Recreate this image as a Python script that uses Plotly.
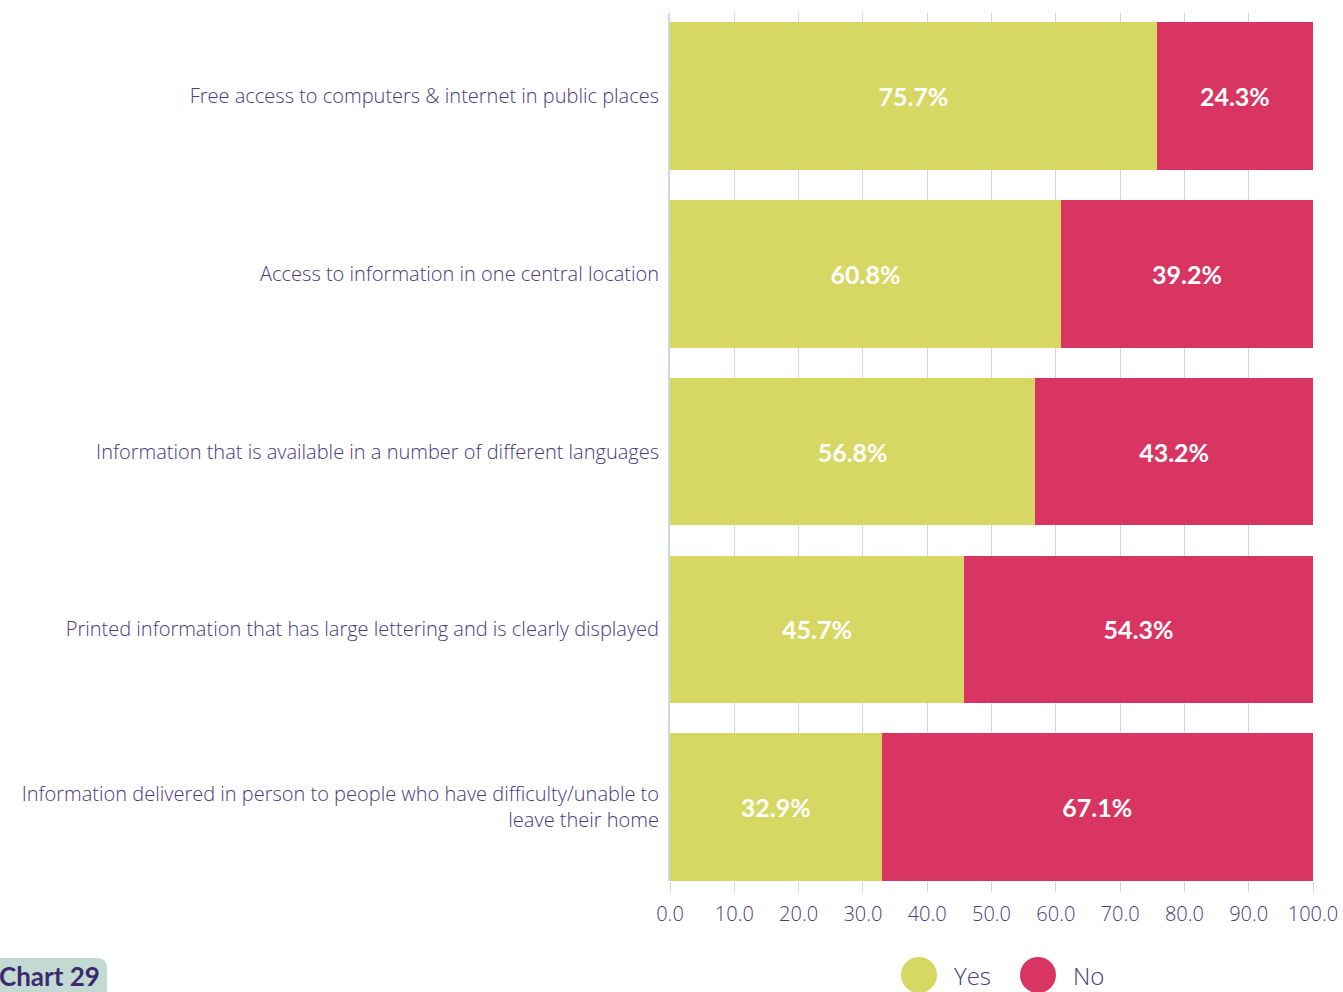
import plotly.graph_objects as go

categories = [
    "Free access to computers &amp; internet in public places",
    "Access to information in one central location",
    "Information that is available in a number of different languages",
    "Printed information that has large lettering and is clearly displayed",
    "Information delivered in person to people who have difficulty/unable to<br>leave their home",
]
yes_values = [75.7, 60.8, 56.8, 45.7, 32.9]
no_values = [24.3, 39.2, 43.2, 54.3, 67.1]
x_ticks = [0, 10, 20, 30, 40, 50, 60, 70, 80, 90, 100]

YES_COLOR = "#d7d764"
NO_COLOR = "#d93563"
TEXT_COLOR = "#463a80"
GRID_COLOR = "#c9dcd8"
FONT = "'Open Sans', Lato, sans-serif"
BOLD_FONT = "Lato, 'Open Sans', sans-serif"

positions = list(range(len(categories)))

fig = go.Figure()
for name, values, color in (("Yes", yes_values, YES_COLOR), ("No", no_values, NO_COLOR)):
    fig.add_trace(go.Bar(
        y=positions, x=values, orientation="h", name=name,
        marker=dict(color=color, line=dict(width=0)), width=0.83,
        text=[f"{v:.1f}%" for v in values], textposition="inside",
        insidetextanchor="middle",
        textfont=dict(color="white", size=25, family=BOLD_FONT, weight="bold"),
        hoverinfo="skip",
    ))

fig.update_layout(
    barmode="stack",
    width=1343, height=992,
    margin=dict(l=670, r=30, t=13, b=111, autoexpand=False),
    paper_bgcolor="white", plot_bgcolor="white",
    showlegend=False,
    font=dict(family=FONT, color=TEXT_COLOR),
    uniformtext=dict(minsize=22, mode="show"),
    xaxis=dict(
        range=[0, 100], tickvals=x_ticks, tickformat=".1f",
        showgrid=True, gridcolor=GRID_COLOR, gridwidth=1,
        ticks="outside", ticklen=10, tickcolor=GRID_COLOR,
        ticklabelstandoff=5, automargin=False,
        tickfont=dict(size=20, color=TEXT_COLOR, family=FONT, weight=300),
        zeroline=False, showline=False,
    ),
    yaxis=dict(
        range=[4.415, -0.466], tickvals=positions, ticktext=categories,
        showgrid=False, zeroline=False, automargin=False,
        showline=True, linecolor=GRID_COLOR, linewidth=2,
        ticks="", ticklabelstandoff=5,
        tickfont=dict(size=20, color=TEXT_COLOR, family=FONT, weight=300),
    ),
)

# Legend: large round swatches with labels
legend_items = [("Yes", YES_COLOR, 919, 952), ("No", NO_COLOR, 1038, 1071)]
for label, color, cx, tx in legend_items:
    px = (cx - 670) / 643
    fig.add_shape(
        type="circle", xref="paper", yref="paper",
        xsizemode="pixel", ysizemode="pixel",
        xanchor=px, yanchor=(881 - 975) / 868,
        x0=-18, x1=18, y0=-18, y1=18,
        fillcolor=color, line=dict(width=0), layer="above",
    )
    fig.add_annotation(
        text=label, xref="paper", yref="paper",
        x=(tx - 670) / 643, y=(881 - 975) / 868,
        xanchor="left", yanchor="middle", showarrow=False,
        font=dict(size=24, color=TEXT_COLOR, family=FONT, weight=300),
    )

# Chart caption badge in the lower-left corner
fig.add_shape(
    type="path", xref="paper", yref="paper",
    xsizemode="pixel", ysizemode="pixel",
    xanchor=(0 - 670) / 643, yanchor=(881 - 992) / 868,
    path="M -20,0 L 107,0 L 107,24 Q 107,34 97,34 L -20,34 Z",
    fillcolor="#c2dad2", line=dict(width=0), layer="above",
)
fig.add_annotation(
    text="<b>Chart 29</b>", xref="paper", yref="paper",
    x=(-3 - 670) / 643, y=(881 - 976) / 868,
    xanchor="left", yanchor="middle", showarrow=False,
    font=dict(size=26, color="#3b2a6e", family=BOLD_FONT),
)

fig.write_html("out.html")
